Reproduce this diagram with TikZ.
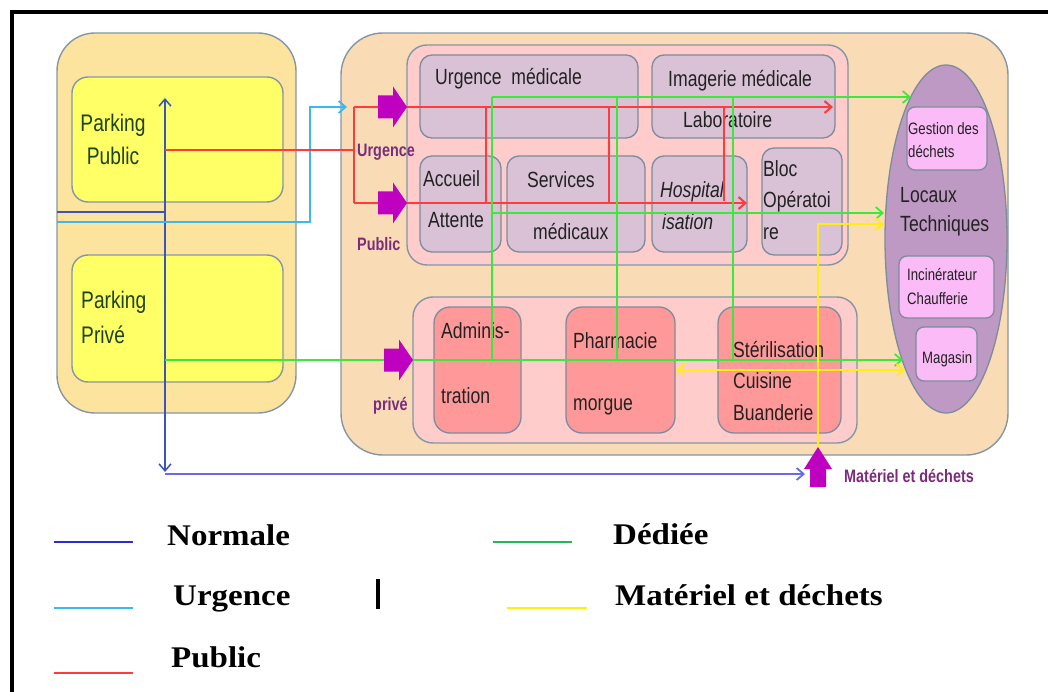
\documentclass[tikz,border=0pt]{standalone}
\usepackage{fontspec}
\setmainfont{Liberation Sans}
\newfontfamily\cf{Liberation Sans}[FakeStretch=0.8]
\newfontfamily\lf{Liberation Serif}[FakeStretch=1.1]
\usetikzlibrary{arrows.meta,shapes.geometric}
\definecolor{parkbg}{HTML}{FDE49E}
\definecolor{mainbg}{HTML}{F9DCB5}
\definecolor{edgec}{HTML}{8496A6}
\definecolor{boxedge}{HTML}{7C8C9C}
\definecolor{ylw}{HTML}{FFFF66}
\definecolor{pinkbg}{HTML}{FFCCCC}
\definecolor{mauve}{HTML}{D9C2D6}
\definecolor{salmon}{HTML}{FF9999}
\definecolor{ellc}{HTML}{BE99C3}
\definecolor{ltpink}{HTML}{FBBBF7}
\definecolor{mag}{HTML}{C000C0}
\definecolor{plab}{HTML}{7D2B7D}
\definecolor{lred}{HTML}{FF3B3B}
\definecolor{lgreen}{HTML}{3BE83B}
\definecolor{lyel}{HTML}{FFEE11}
\definecolor{lcyan}{HTML}{3BB9EC}
\definecolor{lblue}{HTML}{3A55C0}
\definecolor{lbluetwo}{HTML}{6A6AE8}
\definecolor{leggreen}{HTML}{22B85A}
\definecolor{legblue}{HTML}{2B2BD8}
\definecolor{txtc}{HTML}{222222}
\tikzset{
  cont/.style={draw=edgec, line width=1.4pt, inner sep=0pt},
  bx/.style={draw=boxedge, line width=1.3pt, inner sep=0pt, rounded corners=12pt},
  txt/.style={font=\cf\fontsize{22}{26}\selectfont, text=txtc, inner sep=0pt, anchor=base west},
  ptxt/.style={font=\cf\fontsize{24}{28}\selectfont, text=txtc!85!green, inner sep=0pt},
  stxt/.style={font=\cf\fontsize{16.5}{20}\selectfont, text=txtc, inner sep=0pt, anchor=base west},
  plbl/.style={font=\cf\bfseries\fontsize{18}{22}\selectfont, text=plab, inner sep=0pt, anchor=base west},
  ltxt/.style={font=\lf\bfseries\fontsize{30}{34}\selectfont, text=black, inner sep=0pt, anchor=base west},
  tip/.style={-{Straight Barb[length=7pt,width=12pt]}},
  twotip/.style={{Straight Barb[length=7pt,width=12pt]}-{Straight Barb[length=7pt,width=12pt]}},
  red line/.style={draw=lred, line width=2pt},
  green line/.style={draw=lgreen, line width=1.7pt},
  yellow line/.style={draw=lyel, line width=1.8pt},
}
\begin{document}
\begin{tikzpicture}[x=1pt,y=-1pt]
\useasboundingbox (0,0) rectangle (1048,692);
% frame
\draw[line width=3.5pt] (1048,12) -- (12,12) -- (12,692);

% containers
\node[cont, fill=parkbg, minimum width=239pt, minimum height=380pt, rounded corners=38pt] (park) at (176.5,223) {};
\node[cont, fill=ylw, minimum width=211pt, minimum height=125pt, rounded corners=16pt] (pp) at (177.5,139.5) {};
\node[cont, fill=ylw, minimum width=211pt, minimum height=127pt, rounded corners=16pt] (pv) at (177.5,318.5) {};
\node[cont, fill=mainbg, minimum width=667pt, minimum height=422pt, rounded corners=42pt] (main) at (674.5,244) {};
\node[cont, fill=pinkbg, minimum width=441pt, minimum height=220pt, rounded corners=20pt] (topc) at (627.5,155) {};
\node[cont, fill=pinkbg, minimum width=444pt, minimum height=146pt, rounded corners=20pt] (botc) at (635,370) {};

% upper boxes
\node[bx, fill=mauve, minimum width=218pt, minimum height=83pt] (um) at (529,96.5) {};
\node[bx, fill=mauve, minimum width=183pt, minimum height=83pt] (im) at (743.5,96.5) {};
\node[bx, fill=mauve, minimum width=81pt, minimum height=96pt] (acc) at (460.5,204) {};
\node[bx, fill=mauve, minimum width=138pt, minimum height=96pt] (svc) at (576,204) {};
\node[bx, fill=mauve, minimum width=95pt, minimum height=96pt] (hos) at (699.5,204) {};
\node[bx, fill=mauve, minimum width=80pt, minimum height=107pt] (bloc) at (802,201.5) {};
% lower boxes
\node[bx, fill=salmon, minimum width=87pt, minimum height=126pt, rounded corners=16pt] (adm) at (477.5,370) {};
\node[bx, fill=salmon, minimum width=109pt, minimum height=126pt, rounded corners=16pt] (pha) at (620.5,370) {};
\node[bx, fill=salmon, minimum width=123pt, minimum height=126pt, rounded corners=16pt] (ste) at (779.5,370) {};
% locaux techniques
\node[ellipse, draw=boxedge, line width=1.3pt, fill=ellc, minimum width=122pt, minimum height=348pt, inner sep=0pt] (lt) at (946,239) {};
\node[bx, fill=ltpink, rounded corners=8pt, minimum width=80pt, minimum height=63pt] (gd) at (947,138.5) {};
\node[bx, fill=ltpink, rounded corners=8pt, minimum width=95pt, minimum height=62pt] (inc) at (946.5,287) {};
\node[bx, fill=ltpink, rounded corners=8pt, minimum width=61pt, minimum height=54pt] (mag) at (946.5,354) {};

% texts
\node[ptxt, anchor=base] (tpp1) at (113,132) {Parking};
\node[ptxt, anchor=base] (tpp2) at (113,165) {Public};
\node[ptxt, anchor=base west] (tpv1) at (81,308) {Parking};
\node[ptxt, anchor=base west] (tpv2) at (81,343) {Privé};
\node[txt] (t1) at (435,85) {Urgence\ \ médicale};
\node[txt] (t2) at (668,87) {Imagerie médicale};
\node[txt] (t3) at (683,128) {Laboratoire};
\node[txt] (t4) at (423,187) {Accueil};
\node[txt] (t5) at (428,228) {Attente};
\node[txt] (t6) at (527,188) {Services};
\node[txt] (t7) at (533,240) {médicaux};
\node[txt, font=\cf\itshape\fontsize{22}{26}\selectfont] (t8) at (660,198) {Hospital};
\node[txt, font=\cf\itshape\fontsize{22}{26}\selectfont] (t9) at (662,230) {isation};
\node[txt] (t10) at (763,177) {Bloc};
\node[txt] (t11) at (763,208) {Opératoi};
\node[txt] (t12) at (763,240) {re};
\node[txt] (t13) at (441,338) {Adminis-};
\node[txt] (t14) at (441,403) {tration};
\node[txt] (t15) at (573,348) {Pharmacie};
\node[txt] (t16) at (573,410) {morgue};
\node[txt] (t17) at (733,357) {Stérilisation};
\node[txt] (t18) at (733,388) {Cuisine};
\node[txt] (t19) at (733,420) {Buanderie};
\node[txt] (t20) at (900,203) {Locaux};
\node[txt] (t21) at (900,232) {Techniques};
\node[stxt] (t22) at (908,135) {Gestion des};
\node[stxt] (t23) at (908,158) {déchets};
\node[stxt] (t24) at (907,280) {Incinérateur};
\node[stxt] (t25) at (907,305) {Chaufferie};
\node[stxt] (t26) at (922,363) {Magasin};

% coordinates
\coordinate (bTop) at (165,98);
\coordinate (bBot) at (165,472);
\coordinate (bCorner) at (165,474);
\coordinate (bEnd) at (805,474);
\coordinate (dbL) at (57,212);
\coordinate (dbR) at (165,212);
\coordinate (cL) at (57,222);
\coordinate (cK1) at (310,222);
\coordinate (cK2) at (310,107);
\coordinate (cEnd) at (347,107);
\coordinate (rS) at (165,150);
\coordinate (rJ) at (354,150);
\coordinate (rT) at (354,107);
\coordinate (rB) at (354,203);
\coordinate (rTE) at (833,107);
\coordinate (rBE) at (747,203);
\coordinate (gA) at (492,97);
\coordinate (gB) at (617,97);
\coordinate (gC) at (733,97);
\coordinate (gTE) at (911,97);
\coordinate (gM) at (492,213);
\coordinate (gME) at (884,213);
\coordinate (gP) at (165,360);
\coordinate (gPE) at (903,360);
\coordinate (yB) at (818,447);
\coordinate (yK) at (818,224);
\coordinate (yTE) at (884,224);
\coordinate (yL) at (676,370);
\coordinate (yR) at (905,370);

% blue (normale)
\draw[draw=lblue, line width=1.5pt, twotip] (bTop) -- (bBot);
\draw[draw=lblue, line width=1.5pt] (dbL) -- (dbR);
\draw[draw=lbluetwo, line width=1.8pt, tip] (bCorner) -- (bEnd);
% cyan (urgence)
\draw[draw=lcyan, line width=1.8pt, tip] (cL) -- (cK1) -- (cK2) -- (cEnd);
% red (public)
\draw[red line] (rS) -- (rJ);
\draw[red line] (rT) -- (rB);
\draw[red line, tip] (rT) -- (rTE);
\draw[red line, tip] (rB) -- (rBE);
\draw[red line] (486,107) -- (486,203);
\draw[red line] (609,107) -- (609,203);
\draw[red line] (724,107) -- (724,201);
% green (dediee)
\draw[green line, tip] (gA) -- (gTE);
\draw[green line] (gA) -- (gA |- gP);
\draw[green line] (gB) -- (gB |- gP);
\draw[green line] (gC) -- (gC |- gP);
\draw[green line, tip] (gM) -- (gME);
\draw[green line, tip] (gP) -- (gPE);
% yellow (materiel)
\draw[yellow line, tip] (yB) -- (yK) -- (yTE);
\draw[yellow line, twotip] (yL) -- (yR);

% magenta block arrows
\fill[mag] (378,95.5) -- (393,95.5) -- (393,86.5) -- (407,107) -- (393,127.5) -- (393,118.5) -- (378,118.5) -- cycle;
\fill[mag] (378,191.5) -- (393,191.5) -- (393,182.5) -- (407,203) -- (393,223.5) -- (393,214.5) -- (378,214.5) -- cycle;
\fill[mag] (384,348.5) -- (399,348.5) -- (399,339.5) -- (413,360) -- (399,380.5) -- (399,371.5) -- (384,371.5) -- cycle;
\fill[mag] (810,487) -- (810,469) -- (804,469) -- (818,447) -- (832,469) -- (826,469) -- (826,487) -- cycle;

% purple labels
\node[plbl] (lu) at (357,157) {Urgence};
\node[plbl] (lp) at (357,251) {Public};
\node[plbl] (lpv) at (373,410) {privé};
\node[plbl] (lmd) at (844,482) {Matériel et déchets};

% legend
\coordinate (lg1a) at (54,542); \coordinate (lg1b) at (133,542);
\coordinate (lg2a) at (493,542); \coordinate (lg2b) at (572,542);
\coordinate (lg3a) at (54,608); \coordinate (lg3b) at (133,608);
\coordinate (bar1) at (378,579); \coordinate (bar2) at (378,609);
\coordinate (lg4a) at (507,608); \coordinate (lg4b) at (587,608);
\coordinate (lg5a) at (54,673); \coordinate (lg5b) at (133,673);
\draw[draw=legblue, line width=2.5pt] (lg1a) -- (lg1b);
\node[ltxt] (lgt1) at (167,545) {Normale};
\draw[draw=leggreen, line width=2.5pt] (lg2a) -- (lg2b);
\node[ltxt] (lgt2) at (613,544) {Dédiée};
\draw[draw=lcyan, line width=2.5pt] (lg3a) -- (lg3b);
\node[ltxt] (lgt3) at (173,605) {Urgence};
\draw[line width=3.5pt] (bar1) -- (bar2);
\draw[draw=lyel, line width=2.5pt] (lg4a) -- (lg4b);
\node[ltxt] (lgt4) at (615,605) {Matériel et déchets};
\draw[draw=lred, line width=2.5pt] (lg5a) -- (lg5b);
\node[ltxt] (lgt5) at (171,667) {Public};
\end{tikzpicture}
\end{document}
